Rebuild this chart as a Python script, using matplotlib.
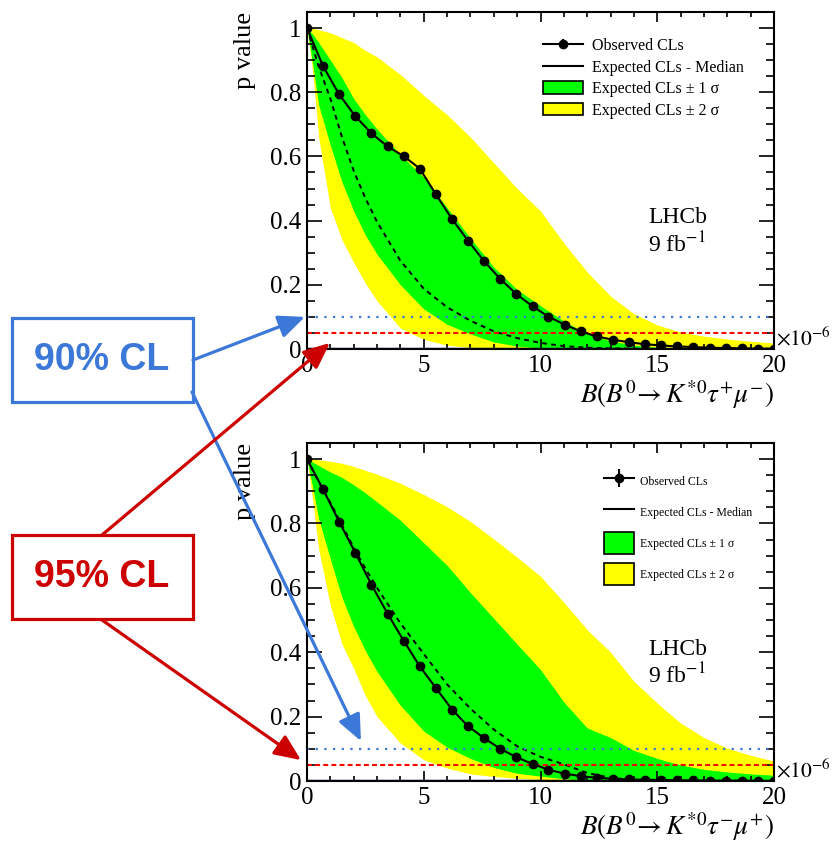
import matplotlib
matplotlib.use('Agg')
import matplotlib.pyplot as plt
import numpy as np
from matplotlib.patches import Patch, Rectangle, ConnectionPatch, ArrowStyle
from matplotlib.lines import Line2D
from matplotlib.ticker import MultipleLocator, FuncFormatter
from matplotlib.legend_handler import HandlerErrorbar
from matplotlib.container import ErrorbarContainer

plt.rcParams['font.family'] = 'serif'
plt.rcParams['font.serif'] = ['Liberation Serif', 'DejaVu Serif']
plt.rcParams['mathtext.fontset'] = 'stix'

# scan points of the observed CLs
x_scan = [0.00, 0.69, 1.38, 2.07, 2.76, 3.45, 4.14, 4.83, 5.52, 6.21,
          6.90, 7.59, 8.28, 8.97, 9.66, 10.34, 11.03, 11.72, 12.41, 13.10,
          13.79, 14.48, 15.17, 15.86, 16.55, 17.24, 17.93, 18.62, 19.31, 20.00]
obs_top = [1.0, 0.881, 0.793, 0.725, 0.672, 0.631, 0.601, 0.562, 0.482, 0.405,
           0.337, 0.273, 0.218, 0.171, 0.133, 0.101, 0.076, 0.055, 0.039, 0.029,
           0.021, 0.015, 0.011, 0.008, 0.006, 0.004, 0.003, 0.002, 0.001, 0.001]
obs_bot = [1.0, 0.906, 0.805, 0.709, 0.610, 0.520, 0.436, 0.356, 0.289, 0.222,
           0.170, 0.133, 0.100, 0.074, 0.053, 0.035, 0.023, 0.015, 0.010, 0.007,
           0.005, 0.004, 0.003, 0.002, 0.002, 0.001, 0.001, 0.001, 0.0, 0.0]

# expected median and bands
x_band = [0, 0.25, 0.5, 1, 1.5, 2, 2.5, 3, 4, 5, 6, 7, 8, 9, 10,
          11, 12, 13, 14, 15, 16, 17, 18, 19, 20]
med_top = [1.0, 0.94, 0.88, 0.78, 0.66, 0.555, 0.47, 0.396, 0.275, 0.188, 0.13, 0.088, 0.055, 0.034, 0.019,
           0.009, 0.004, 0.002, 0.001, 0, 0, 0, 0, 0, 0]
g_lo_top = [1.0, 0.885, 0.76, 0.635, 0.52, 0.43, 0.355, 0.295, 0.2, 0.125, 0.077, 0.047, 0.022, 0.009, 0.003,
            0.001, 0, 0, 0, 0, 0, 0, 0, 0, 0]
g_hi_top = [1.0, 0.98, 0.955, 0.9, 0.845, 0.78, 0.73, 0.685, 0.605, 0.535, 0.44, 0.345, 0.255, 0.185, 0.135,
            0.087, 0.047, 0.025, 0.012, 0.005, 0.002, 0.001, 0, 0, 0]
y_lo_top = [1.0, 0.86, 0.66, 0.44, 0.34, 0.27, 0.205, 0.15, 0.065, 0.03, 0.012, 0.004, 0.002, 0.001, 0,
            0, 0, 0, 0, 0, 0, 0, 0, 0, 0]
y_hi_top = [1.0, 1.0, 0.995, 0.985, 0.97, 0.955, 0.93, 0.91, 0.855, 0.79, 0.73, 0.66, 0.58, 0.50, 0.43,
            0.33, 0.24, 0.165, 0.11, 0.075, 0.053, 0.04, 0.031, 0.024, 0.019]

med_bot = [1.0, 0.965, 0.93, 0.865, 0.795, 0.725, 0.66, 0.6, 0.49, 0.395, 0.3, 0.225, 0.16, 0.108, 0.075,
           0.052, 0.025, 0.01, 0.003, 0.001, 0, 0, 0, 0, 0]
g_lo_bot = [1.0, 0.91, 0.815, 0.69, 0.57, 0.48, 0.405, 0.34, 0.235, 0.155, 0.105, 0.07, 0.042, 0.024, 0.015,
            0.007, 0.003, 0.001, 0, 0, 0, 0, 0, 0, 0]
g_hi_bot = [1.0, 0.99, 0.98, 0.96, 0.943, 0.92, 0.895, 0.867, 0.81, 0.74, 0.67, 0.585, 0.505, 0.425, 0.346,
            0.245, 0.165, 0.135, 0.095, 0.07, 0.05, 0.036, 0.028, 0.022, 0.018]
y_lo_bot = [1.0, 0.87, 0.72, 0.545, 0.425, 0.35, 0.265, 0.2, 0.118, 0.066, 0.04, 0.022, 0.014, 0.008, 0.004,
            0.002, 0.001, 0, 0, 0, 0, 0, 0, 0, 0]
y_hi_bot = [1.0, 1.0, 0.998, 0.993, 0.987, 0.977, 0.965, 0.953, 0.925, 0.89, 0.852, 0.806, 0.752, 0.695, 0.636,
            0.555, 0.47, 0.40, 0.31, 0.242, 0.18, 0.135, 0.102, 0.08, 0.062]

labels = ['Observed CLs', 'Expected CLs - Median', 'Expected CLs ± 1 σ', 'Expected CLs ± 2 σ']
xlabel_top = r'$B(B^0\!\rightarrow K^{*0}\tau^{+}\mu^{-})$'
xlabel_bot = r'$B(B^0\!\rightarrow K^{*0}\tau^{-}\mu^{+})$'

GREEN = '#00ff00'
YELLOW = '#ffff00'
BLUE = '#3c78d8'
RED = '#cc0000'

W, H = 833, 843
fig = plt.figure(figsize=(W / 100, H / 100), dpi=100)


def panel(rect, obs, med, g_lo, g_hi, y_lo, y_hi, xlabel, leg):
    ax = fig.add_axes(rect)
    ax.fill_between(x_band, y_lo, y_hi, color=YELLOW, lw=0)
    ax.fill_between(x_band, g_lo, g_hi, color=GREEN, lw=0)
    ax.plot(x_band, med, color='black', ls=(0, (2.5, 2.2)), lw=1.4)
    eb = ax.errorbar(x_scan, obs, yerr=np.zeros(len(obs)), fmt='-o', color='black',
                     ms=6, lw=1.5, elinewidth=1.5, capsize=0)
    ax.axhline(0.1, color=BLUE, ls=(0, (1, 2.9)), lw=1.6)
    ax.axhline(0.05, color='red', ls=(0, (2.4, 1.5)), lw=1.5)
    ax.axhline(0, color='#1a1a70', lw=2.5)

    ax.set_xlim(0, 20)
    ax.set_ylim(0, 1.05)
    ax.xaxis.set_major_locator(MultipleLocator(5))
    ax.xaxis.set_minor_locator(MultipleLocator(1))
    ax.yaxis.set_major_locator(MultipleLocator(0.2))
    ax.yaxis.set_minor_locator(MultipleLocator(0.05))
    ax.yaxis.set_major_formatter(FuncFormatter(lambda v, p: f'{v:g}'))
    ax.tick_params(which='both', direction='in', top=True, right=True, width=1.2)
    ax.tick_params(axis='y', which='major', length=11, labelsize=18, pad=4)
    ax.tick_params(axis='y', which='minor', length=5.5)
    ax.tick_params(axis='x', which='major', length=7, labelsize=18, pad=4)
    ax.tick_params(axis='x', which='minor', length=3.5)
    for s in ax.spines.values():
        s.set_linewidth(1.5)

    ax.set_ylabel('p value', loc='top', fontsize=19, labelpad=10)
    ax.set_xlabel(xlabel, loc='right', fontsize=19.5, labelpad=1)

    ax.text(0.73, 0.374, 'LHCb', transform=ax.transAxes, fontsize=17)
    ax.text(0.73, 0.288, r'9 fb$^{-1}$', transform=ax.transAxes, fontsize=17)
    ax.text(1.004, 0.03, r'$\times10^{-6}$', transform=ax.transAxes, fontsize=15.5,
            va='center', ha='left')

    handles = [eb, Line2D([], [], color='black', lw=1.5),
               Patch(facecolor=GREEN, edgecolor='black', lw=1.2),
               Patch(facecolor=YELLOW, edgecolor='black', lw=1.2)]
    ax.legend(handles, labels, loc='upper left', bbox_to_anchor=leg['anchor'],
              frameon=False, borderpad=0, borderaxespad=0,
              fontsize=leg['fs'], handlelength=leg['hl'], handleheight=leg['hh'],
              labelspacing=leg['ls'], handletextpad=leg['tp'],
              handler_map={ErrorbarContainer: HandlerErrorbar(xerr_size=leg['eb'])})
    return ax


ax1 = panel([307 / W, 1 - 349 / H, 467 / W, 337 / H], obs_top, med_top, g_lo_top, g_hi_top,
            y_lo_top, y_hi_top, xlabel_top,
            dict(anchor=(0.505, 0.923), fs=11.5, hl=2.5, hh=0.8, ls=0.35, tp=0.55, eb=0.3))
ax2 = panel([307 / W, 1 - 781 / H, 467 / W, 338 / H], obs_bot, med_bot, g_lo_bot, g_hi_bot,
            y_lo_bot, y_hi_bot, xlabel_bot,
            dict(anchor=(0.636, 0.918), fs=8.5, hl=2.55, hh=2.5, ls=0.74, tp=0.5, eb=0.75))


def fxy(px, py):
    return (px / W, 1 - py / H)


# annotation boxes
for txt, col, top in [('90% CL', BLUE, 318), ('95% CL', RED, 535)]:
    fig.add_artist(Rectangle(fxy(12, top + 84), 181 / W, 84 / H, transform=fig.transFigure,
                             fill=False, edgecolor=col, lw=2.3))
    fig.text(*fxy(102, top + 42), txt, color=col, fontsize=27, fontweight='bold',
             family='Liberation Sans', ha='center', va='center')

head = ArrowStyle('-|>', head_length=0.8, head_width=0.35)
arrows = [(fxy(193, 360), ax1, (-0.09, 0.1), BLUE),
          (fxy(192, 392), ax2, (2.31, 0.124), BLUE),
          (fxy(102, 535), ax1, (0.98, 0.019), RED),
          (fxy(102, 620), ax2, (-0.26, 0.065), RED)]
for start, ax, tip, col in arrows:
    cp = ConnectionPatch(xyA=start, coordsA='figure fraction', xyB=tip, coordsB=ax.transData,
                         arrowstyle=head, mutation_scale=20, color=col, lw=2.3,
                         shrinkA=0, shrinkB=0)
    fig.add_artist(cp)

fig.savefig('out.png', dpi=100)
